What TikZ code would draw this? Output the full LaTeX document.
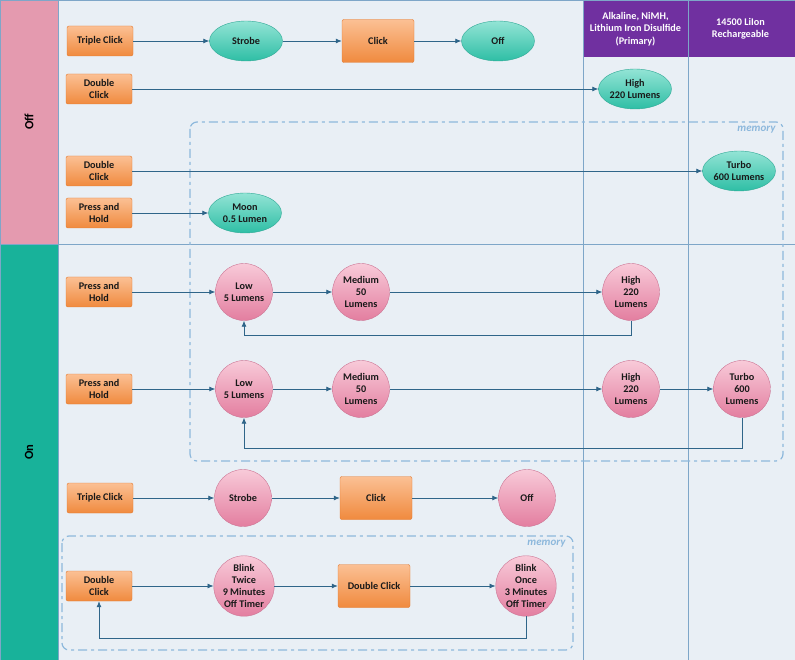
\documentclass[tikz,border=0pt]{standalone}
\usepackage{fontspec}
\setmainfont{Carlito}
\usepackage{tikz}
\usetikzlibrary{arrows.meta, positioning, shapes.geometric, calc}
\definecolor{bgc}{HTML}{E9EFF5}
\definecolor{gridc}{HTML}{7EA6C8}
\definecolor{offc}{HTML}{E49AAF}
\definecolor{onc}{HTML}{18B29A}
\definecolor{hdc}{HTML}{7030A0}
\definecolor{linec}{HTML}{2F6589}
\definecolor{memc}{HTML}{8DB8DC}
\definecolor{evtd}{HTML}{E2782E}
\definecolor{evtt}{HTML}{FBC094}
\definecolor{evtb}{HTML}{F08A3E}
\definecolor{litd}{HTML}{2FA895}
\definecolor{litt}{HTML}{93E4D5}
\definecolor{litb}{HTML}{2EBEA5}
\definecolor{modd}{HTML}{CC7594}
\definecolor{modt}{HTML}{F8CAD8}
\definecolor{modb}{HTML}{E37EA0}
\tikzset{
  txt/.style  = {font=\bfseries\fontsize{10.2}{12}\selectfont, text=black!90, align=center},
  evt/.style  = {txt, draw=evtd, rounded corners=2pt, top color=evtt, bottom color=evtb,
                 minimum width=66pt, minimum height=30pt, inner sep=1pt},
  big/.style  = {minimum width=72pt, minimum height=43pt},
  lite/.style = {txt, ellipse, draw=litd, top color=litt, bottom color=litb,
                 minimum width=73pt, minimum height=40pt, inner sep=0pt},
  mode/.style = {txt, circle, draw=modd, top color=modt, bottom color=modb,
                 minimum size=57pt, inner sep=0pt},
  hdr/.style  = {font=\bfseries\fontsize{10.2}{12.3}\selectfont, text=white, align=center},
  lane/.style = {font=\bfseries\fontsize{12.5}{14}\selectfont, rotate=90},
  memo/.style = {draw=memc, line width=1.2pt, rounded corners=7pt,
                 dash pattern=on 9pt off 4pt on 3pt off 4pt},
  mlab/.style = {font=\bfseries\itshape\fontsize{11}{13}\selectfont, text=memc, anchor=north east},
  fl/.style   = {-{Latex[length=6pt,width=5pt]}, draw=linec, line width=0.8pt},
}
\begin{document}
\begin{tikzpicture}[x=1pt, y=-1pt]
  \useasboundingbox (0,0) rectangle (795,660);
  % lanes and columns
  \fill[bgc] (0,0) rectangle (795,660);
  \fill[offc] (0,0) rectangle (58,244);
  \fill[onc] (0,244) rectangle (58,660);
  \fill[hdc] (583,0) rectangle (795,57);
  \draw[gridc, line width=0.8pt] (58,0) -- (58,660) (583,0) -- (583,660) (688,0) -- (688,660)
        (0,244) -- (795,244) (0,0) rectangle (795,660);
  \node[lane] (offl) at (29,122) {Off};
  \node[lane] (onl)  at (29,452) {On};
  \node[hdr] (col1) at (635.5,29) {Alkaline, NiMH,\\Lithium Iron Disulfide\\(Primary)};
  \node[hdr] (col2) at (740.5,29) {14500 LiIon\\Rechargeable};
  % memory groups
  \draw[memo] (190,122) rectangle (783,461);
  \node[mlab] (mem1) at (779,123) {memory};
  \draw[memo] (62,536) rectangle (573,650);
  \node[mlab] (mem2) at (569,537) {memory};
  % off lane
  \node[evt] (tc1) at (100,41) {Triple Click};
  \node[lite] (sb1) at (246,41) {Strobe};
  \node[evt, big] (ck1) at (378,41) {Click};
  \node[lite] (of1) at (498,41) {Off};
  \node[evt] (dc1) at (99,89) {Double\\Click};
  \node[lite] (hi0) at (635,89) {High\\220 Lumens};
  \node[evt] (dc2) at (99,171) {Double\\Click};
  \node[lite] (tu0) at (739,171) {Turbo\\600 Lumens};
  \node[evt] (ph1) at (99,213) {Press and\\Hold};
  \node[lite] (mn1) at (245,213) {Moon\\0.5 Lumen};
  \draw[fl] (tc1) -- (sb1); \draw[fl] (sb1) -- (ck1); \draw[fl] (ck1) -- (of1);
  \draw[fl] (dc1) -- (hi0); \draw[fl] (dc2) -- (tu0); \draw[fl] (ph1) -- (mn1);
  % on lane
  \node[evt] (ph2) at (99,292) {Press and\\Hold};
  \node[mode] (lo1) at (244,292) {Low\\5 Lumens};
  \node[mode] (md1) at (361,292) {Medium\\50\\Lumens};
  \node[mode] (hi1) at (631,292) {High\\220\\Lumens};
  \draw[fl] (ph2) -- (lo1); \draw[fl] (lo1) -- (md1); \draw[fl] (md1) -- (hi1);
  \draw[fl] (hi1.south) -- ++(0,15) -| (lo1.south);
  \node[evt] (ph3) at (99,389) {Press and\\Hold};
  \node[mode] (lo2) at (244,389) {Low\\5 Lumens};
  \node[mode] (md2) at (361,389) {Medium\\50\\Lumens};
  \node[mode] (hi2) at (631,389) {High\\220\\Lumens};
  \node[mode] (tu1) at (742,389) {Turbo\\600\\Lumens};
  \draw[fl] (ph3) -- (lo2); \draw[fl] (lo2) -- (md2); \draw[fl] (md2) -- (hi2);
  \draw[fl] (hi2) -- (tu1);
  \draw[fl] (tu1.south) -- ++(0,31) -| (lo2.south);
  \node[evt] (tc2) at (100,498) {Triple Click};
  \node[mode] (sb2) at (243,498) {Strobe};
  \node[evt, big] (ck2) at (376,498) {Click};
  \node[mode] (of2) at (527,498) {Off};
  \draw[fl] (tc2) -- (sb2); \draw[fl] (sb2) -- (ck2); \draw[fl] (ck2) -- (of2);
  \node[evt] (dc3) at (99,586) {Double\\Click};
  \node[mode, minimum size=60pt] (bt1) at (244,586) {Blink\\Twice\\9 Minutes\\Off Timer};
  \node[evt, big] (dc4) at (374,586) {Double Click};
  \node[mode, minimum size=60pt] (bo1) at (526,586) {Blink\\Once\\3 Minutes\\Off Timer};
  \draw[fl] (dc3) -- (bt1); \draw[fl] (bt1) -- (dc4); \draw[fl] (dc4) -- (bo1);
  \draw[fl] (bo1.south) -- ++(0,22) -| (dc3.south);
\end{tikzpicture}
\end{document}
